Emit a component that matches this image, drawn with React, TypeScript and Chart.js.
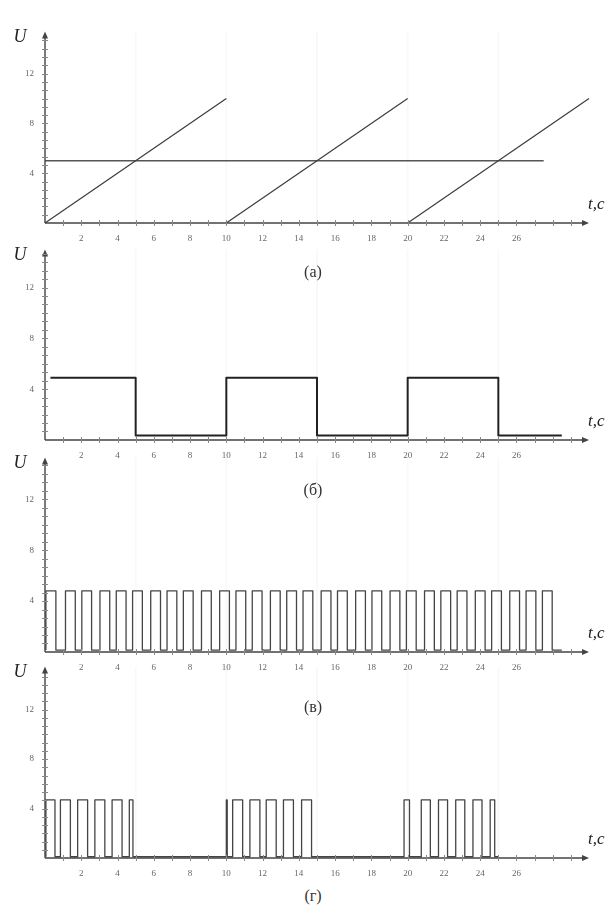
import React, { useEffect, useRef } from "react";
import { Chart, registerables } from "chart.js";

Chart.register(...registerables);

// ---------- axis ticks ----------
const xMax = 30;
const xTickValues = [1, 2, 3, 4, 5, 6, 7, 8, 9, 10, 11, 12, 13, 14, 15, 16, 17, 18, 19, 20, 21, 22, 23, 24, 25, 26, 27, 28, 29];
const xLabelValues = [2, 4, 6, 8, 10, 12, 14, 16, 18, 20, 22, 24, 26];
const yTickValues = [0.67, 1.33, 2, 2.67, 3.33, 4, 4.67, 5.33, 6, 6.67, 7.33, 8, 8.67, 9.33, 10, 10.67, 11.33, 12, 12.67, 13.33, 14, 14.67];
const yLabelValues = [4, 8, 12];
const faintGridT = [5, 10, 15, 20, 25];

// ---------- (а) sawtooth + threshold ----------
const rampStartT = [0, 10, 20];
const rampEndT = [10, 20, 30];
const rampStartU = [0, 0, 0];
const rampEndU = [10, 10, 10];
const thresholdT = [0, 27.5];
const thresholdU = [5, 5];

// ---------- (б) square wave ----------
const squareT = [0.3, 5, 5, 10, 10, 15, 15, 20, 20, 25, 25, 28.5];
const squareU = [4.9, 4.9, 0.35, 0.35, 4.9, 4.9, 0.35, 0.35, 4.9, 4.9, 0.35, 0.35];

// ---------- (в) pulse train ----------
const pwmRise = [0.05, 1.13, 2.03, 3.03, 3.93, 4.83, 5.83, 6.73, 7.63, 8.63, 9.63, 10.53, 11.43, 12.43, 13.33, 14.23, 15.23, 16.13, 17.13, 18.03, 19.03, 19.93, 20.93, 21.83, 22.73, 23.73, 24.63, 25.63, 26.53, 27.43];
const pwmFall = [0.6, 1.67, 2.57, 3.57, 4.47, 5.37, 6.37, 7.27, 8.17, 9.17, 10.17, 11.07, 11.97, 12.97, 13.87, 14.77, 15.77, 16.67, 17.67, 18.57, 19.57, 20.47, 21.47, 22.37, 23.27, 24.27, 25.17, 26.17, 27.07, 27.97];
const pwmHigh = 4.8;
const pwmLow = 0.15;
const pwmEndT = 28.5;

// ---------- (г) gated pulse bursts ----------
const gatedRise = [0.05, 0.85, 1.8, 2.75, 3.7, 4.65, 10.0, 10.35, 11.3, 12.2, 13.15, 14.15, 19.8, 20.75, 21.7, 22.65, 23.6, 24.55];
const gatedFall = [0.55, 1.4, 2.35, 3.3, 4.25, 4.85, 10.05, 10.9, 11.85, 12.75, 13.7, 14.7, 20.1, 21.25, 22.2, 23.15, 24.1, 24.8];
const gatedHigh = 4.7;
const gatedLow = 0.1;
const gatedEndT = 25.0;

// ---------- helpers ----------
const zipPts = (ts: number[], us: number[]) => ts.map((t, i) => ({ x: t, y: us[i] }));

function pulseTrain(rise: number[], fall: number[], high: number, low: number, endT: number) {
  const pts: { x: number; y: number }[] = [];
  rise.forEach((r, i) => {
    pts.push({ x: r, y: low }, { x: r, y: high }, { x: fall[i], y: high }, { x: fall[i], y: low });
  });
  pts.push({ x: endT, y: low });
  return pts;
}

const lineDs = (data: { x: number; y: number }[], color: string, width: number) => ({
  data,
  borderColor: color,
  borderWidth: width,
  pointRadius: 0,
  fill: false,
  tension: 0,
  borderJoinStyle: "round" as const,
  clip: 6,
});

const datasetsA = () => [
  ...rampStartT.map((t0, i) =>
    lineDs(zipPts([t0, rampEndT[i]], [rampStartU[i], rampEndU[i]]), "#3c3c3c", 1.2)
  ),
  lineDs(zipPts(thresholdT, thresholdU), "#555", 1.5),
];
const datasetsB = () => [lineDs(zipPts(squareT, squareU), "#222", 2)];
const datasetsV = () => [lineDs(pulseTrain(pwmRise, pwmFall, pwmHigh, pwmLow, pwmEndT), "#444", 1.3)];
const datasetsG = () => [lineDs(pulseTrain(gatedRise, gatedFall, gatedHigh, gatedLow, gatedEndT), "#444", 1.3)];

const panels = [
  { key: "a", top: 27, axis: 223, yMax: 15.4, caption: "(а)", captionY: 272, build: datasetsA },
  { key: "b", top: 245, axis: 440, yMax: 15.0, caption: "(б)", captionY: 490, build: datasetsB },
  { key: "v", top: 453, axis: 652, yMax: 15.3, caption: "(в)", captionY: 707, build: datasetsV },
  { key: "g", top: 662, axis: 858, yMax: 15.5, caption: "(г)", captionY: 896, build: datasetsG },
];

const PAD_TOP = 12;
const X_AXIS_H = 22;
const Y_AXIS_W = 45;
const PAD_RIGHT = 25;
const SERIF = '"Liberation Serif", "DejaVu Serif", serif';

const axesPlugin = {
  id: "axesDecor",
  beforeDatasetsDraw(chart: any) {
    const { ctx, chartArea, scales } = chart;
    const { top, bottom } = chartArea;
    ctx.save();
    ctx.strokeStyle = "rgba(0,0,0,0.025)";
    ctx.lineWidth = 2;
    faintGridT.forEach((t) => {
      const px = scales.x.getPixelForValue(t);
      ctx.beginPath();
      ctx.moveTo(px, top);
      ctx.lineTo(px, bottom);
      ctx.stroke();
    });
    ctx.restore();
  },
  afterDatasetsDraw(chart: any) {
    const { ctx, chartArea, scales } = chart;
    const { left, right, top, bottom } = chartArea;
    ctx.save();
    ctx.strokeStyle = "#444";
    ctx.fillStyle = "#444";
    ctx.lineWidth = 1.4;
    ctx.beginPath();
    ctx.moveTo(left, bottom);
    ctx.lineTo(left, top + 5);
    ctx.moveTo(left, bottom);
    ctx.lineTo(right - 5, bottom);
    ctx.stroke();
    // arrow heads
    ctx.beginPath();
    ctx.moveTo(left, top);
    ctx.lineTo(left - 3, top + 7);
    ctx.lineTo(left + 3, top + 7);
    ctx.closePath();
    ctx.fill();
    ctx.beginPath();
    ctx.moveTo(right, bottom);
    ctx.lineTo(right - 7, bottom - 3);
    ctx.lineTo(right - 7, bottom + 3);
    ctx.closePath();
    ctx.fill();
    // tick marks
    ctx.strokeStyle = "#888";
    ctx.lineWidth = 1;
    ctx.beginPath();
    yTickValues.forEach((v) => {
      const py = Math.round(scales.y.getPixelForValue(v)) + 0.5;
      ctx.moveTo(left - 3, py);
      ctx.lineTo(left + 3, py);
    });
    xTickValues.forEach((v) => {
      const px = Math.round(scales.x.getPixelForValue(v)) + 0.5;
      ctx.moveTo(px, bottom - 3);
      ctx.lineTo(px, bottom + 3);
    });
    ctx.stroke();
    // axis names
    ctx.fillStyle = "#222";
    ctx.textBaseline = "middle";
    ctx.textAlign = "center";
    ctx.font = `italic 18px ${SERIF}`;
    ctx.fillText("U", 20, top + 6);
    ctx.textAlign = "left";
    ctx.font = `italic 17px ${SERIF}`;
    ctx.fillText("t,c", right - 1, bottom - 18);
    ctx.restore();
  },
};

function Panel({ cfg }: { cfg: (typeof panels)[number] }) {
  const ref = useRef<HTMLCanvasElement>(null);
  const h = cfg.axis - cfg.top + PAD_TOP + X_AXIS_H;
  useEffect(() => {
    const chart = new Chart(ref.current as HTMLCanvasElement, {
      type: "line",
      data: { datasets: cfg.build() as any },
      plugins: [axesPlugin],
      options: {
        animation: false,
        responsive: false,
        maintainAspectRatio: false,
        events: [],
        layout: { padding: { top: PAD_TOP, right: PAD_RIGHT, left: 0, bottom: 0 } },
        plugins: { legend: { display: false }, tooltip: { enabled: false } },
        scales: {
          x: {
            type: "linear",
            min: 0,
            max: xMax,
            afterBuildTicks: (s: any) => {
              s.ticks = xTickValues.map((v) => ({ value: v }));
            },
            afterFit: (s: any) => {
              s.height = X_AXIS_H;
            },
            grid: { display: false, drawTicks: false },
            border: { display: false },
            ticks: {
              autoSkip: false,
              maxRotation: 0,
              padding: 10,
              color: "#666",
              font: { family: SERIF, size: 9 },
              callback: (v: any) => (xLabelValues.includes(Number(v)) ? String(v) : ""),
            },
          },
          y: {
            type: "linear",
            min: 0,
            max: cfg.yMax,
            afterBuildTicks: (s: any) => {
              s.ticks = yTickValues.map((v) => ({ value: v }));
            },
            afterFit: (s: any) => {
              s.width = Y_AXIS_W;
            },
            grid: { display: false, drawTicks: false },
            border: { display: false },
            ticks: {
              autoSkip: false,
              padding: 11,
              color: "#666",
              font: { family: SERIF, size: 9 },
              callback: (v: any) => {
                const n = Number(v);
                const hit = yLabelValues.find((L) => Math.abs(L - n) < 0.01);
                return hit !== undefined ? String(hit) : "";
              },
            },
          },
        },
      } as any,
    });
    return () => chart.destroy();
  }, []);
  return (
    <canvas
      ref={ref}
      width={614}
      height={h}
      style={{ position: "absolute", left: 0, top: cfg.top - PAD_TOP, width: 614, height: h, display: "block" }}
    />
  );
}

export default function App() {
  return (
    <div style={{ position: "absolute", left: 0, top: 0, width: 614, height: 909, background: "#fff", overflow: "hidden" }}>
      {panels.map((p) => (
        <Panel key={p.key} cfg={p} />
      ))}
      {panels.map((p) => (
        <div
          key={p.key + "-cap"}
          style={{
            position: "absolute",
            left: 263,
            width: 100,
            top: p.captionY - 10,
            height: 20,
            lineHeight: "20px",
            textAlign: "center",
            fontFamily: SERIF,
            fontSize: 16,
            color: "#333",
            pointerEvents: "none",
          }}
        >
          {p.caption}
        </div>
      ))}
    </div>
  );
}
